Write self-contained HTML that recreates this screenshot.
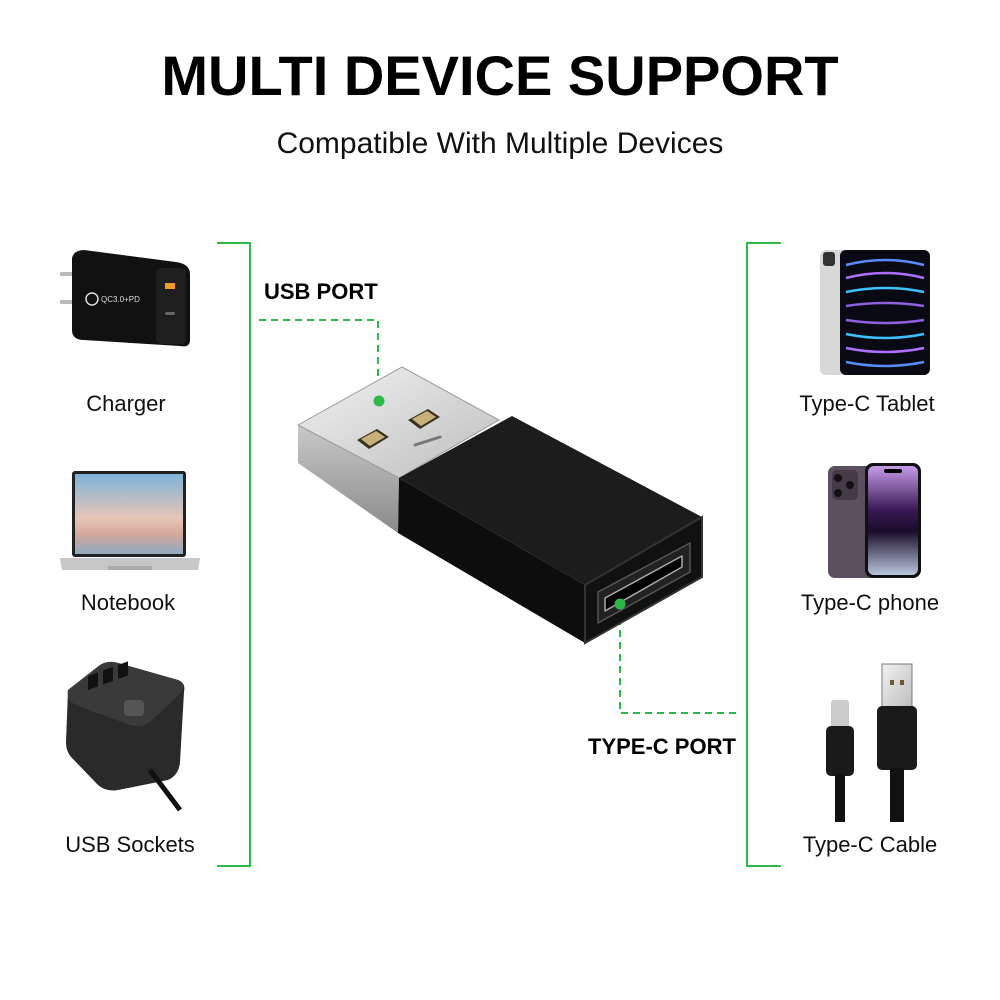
<!DOCTYPE html>
<html><head><meta charset="utf-8"><style>
html,body{margin:0;padding:0;background:#fff;}
svg{display:block;}
text{font-family:"Liberation Sans",Arial,sans-serif;}
</style></head><body>
<svg width="1000" height="1000" viewBox="0 0 1000 1000" xmlns="http://www.w3.org/2000/svg">
<defs>
<linearGradient id="silv" x1="0" y1="0" x2="1" y2="1"><stop offset="0" stop-color="#f2f2f2"/><stop offset="1" stop-color="#bdbdbd"/></linearGradient>
<linearGradient id="silv2" x1="0" y1="0" x2="0" y2="1"><stop offset="0" stop-color="#c8c8c8"/><stop offset="1" stop-color="#8a8a8a"/></linearGradient>
<linearGradient id="scr" x1="0" y1="0" x2="0" y2="1"><stop offset="0" stop-color="#7fb2d8"/><stop offset="0.55" stop-color="#e6c6b8"/><stop offset="0.75" stop-color="#d6a89a"/><stop offset="1" stop-color="#8fa9c0"/></linearGradient>
<linearGradient id="ph" x1="0" y1="0" x2="0" y2="1"><stop offset="0" stop-color="#c79be8"/><stop offset="0.4" stop-color="#3a1a55"/><stop offset="0.6" stop-color="#1a0c2a"/><stop offset="1" stop-color="#b8c6dd"/></linearGradient>
</defs>
<text x="500" y="95" text-anchor="middle" font-size="56" font-weight="bold" fill="#000">MULTI DEVICE SUPPORT</text>
<text x="500" y="153" text-anchor="middle" font-size="30" fill="#111">Compatible With Multiple Devices</text>

<g stroke="#2db84a" stroke-width="2" fill="none">
<polyline points="217,243 250,243 250,866 217,866"/>
<polyline points="781,243 747,243 747,866 781,866"/>
</g>
<g stroke="#2db84a" stroke-width="2" fill="none" stroke-dasharray="7,5">
<polyline points="259,320 378,320 378,395"/>
<polyline points="620,606 620,713 738,713"/>
</g>
<text x="264" y="299" font-size="22" font-weight="bold">USB PORT</text>
<text x="588" y="754" font-size="22" font-weight="bold">TYPE-C PORT</text>

<polygon points="298,425 298,463 398,533 399,478" fill="url(#silv2)"/>
<polygon points="298,425 402,367 499,420 399,478" fill="url(#silv)" stroke="#999" stroke-width="1"/>
<polygon points="408,420 428,409 440,417 420,429" fill="#3a3320"/>
<polygon points="412,419 427,411 436,417 421,426" fill="#c9b27a"/>
<polygon points="357,440 377,429 389,437 369,449" fill="#3a3320"/>
<polygon points="361,439 376,431 385,437 370,446" fill="#c9b27a"/>
<line x1="415" y1="445" x2="440" y2="437" stroke="#777" stroke-width="3" stroke-linecap="round"/>
<polygon points="399,478 512,416 702,517 585,585" fill="#1c1c1c"/>
<polygon points="399,478 585,585 585,643 398,533" fill="#0d0d0d"/>
<polygon points="585,585 702,517 702,577 585,643" fill="#111" stroke="#333" stroke-width="2"/>
<polygon points="598,592 690,543 690,572 598,623" fill="#222" stroke="#555" stroke-width="1.5" stroke-linejoin="round"/>
<polygon points="605,598 682,556 682,567 605,611" fill="#000" stroke="#aaa" stroke-width="1.5" stroke-linejoin="round"/>
<circle cx="379" cy="401" r="5.5" fill="#2db84a"/>
<circle cx="620" cy="604" r="5.5" fill="#2db84a"/>

<polygon points="60,272 72,272 72,276 60,276" fill="#bbb"/>
<polygon points="60,300 72,300 72,304 60,304" fill="#bbb"/>
<path d="M72,258 Q74,250 84,250 L176,262 Q190,264 190,274 L190,340 Q190,348 180,346 L84,340 Q72,340 72,330 Z" fill="#111"/>
<rect x="156" y="268" width="30" height="76" rx="5" fill="#1e1e1e"/>
<rect x="165" y="283" width="10" height="6" fill="#f39a2a"/>
<rect x="165" y="312" width="10" height="3" rx="1.5" fill="#666"/>
<circle cx="92" cy="299" r="6" fill="none" stroke="#ddd" stroke-width="1.5"/>
<text x="101" y="302" font-size="8" fill="#ddd">QC3.0+PD</text>
<text x="126" y="411" text-anchor="middle" font-size="22" fill="#111">Charger</text>

<rect x="72" y="471" width="114" height="86" rx="3" fill="#222"/>
<rect x="75" y="474" width="108" height="80" fill="url(#scr)"/>
<path d="M60,558 L200,558 L198,570 L62,570 Z" fill="#c7c7c7"/>
<rect x="108" y="566" width="44" height="4" fill="#aaa"/>
<text x="128" y="610" text-anchor="middle" font-size="22" fill="#111">Notebook</text>

<path d="M68,690 L100,665 Q108,660 118,663 L178,680 Q186,683 184,692 L180,762 Q179,775 168,780 L118,790 Q106,792 98,785 L72,758 Q66,752 66,742 Z" fill="#2a2a2a"/>
<path d="M68,690 L100,665 Q108,660 118,663 L178,680 Q186,683 182,692 L150,722 Q142,728 130,725 L76,705 Q66,700 68,690 Z" fill="#3a3a3a"/>
<g fill="#111"><rect x="88" y="676" width="10" height="14" transform="skewY(-20) translate(0,32)"/><rect x="103" y="671" width="10" height="14" transform="skewY(-20) translate(0,37)"/><rect x="118" y="666" width="10" height="14" transform="skewY(-20) translate(0,42)"/></g>
<rect x="124" y="700" width="20" height="16" rx="4" fill="#555"/>
<path d="M150,770 L180,810" stroke="#111" stroke-width="5" fill="none"/>
<text x="130" y="852" text-anchor="middle" font-size="22" fill="#111">USB Sockets</text>

<rect x="820" y="250" width="50" height="125" rx="6" fill="#d8d8d8"/>
<rect x="823" y="252" width="12" height="14" rx="3" fill="#333"/>
<rect x="840" y="250" width="90" height="125" rx="6" fill="#0a0a14"/>
<g fill="none" stroke-width="2.5">
<path d="M846,265 Q885,255 924,265" stroke="#5a8cff"/><path d="M846,278 Q885,268 924,278" stroke="#b070ff"/>
<path d="M846,292 Q885,284 924,292" stroke="#3fc0ff"/><path d="M846,306 Q885,300 924,306" stroke="#9060e0"/>
<path d="M846,320 Q885,326 924,320" stroke="#9060e0"/><path d="M846,334 Q885,342 924,334" stroke="#3fc0ff"/>
<path d="M846,348 Q885,356 924,348" stroke="#b070ff"/><path d="M846,362 Q885,370 924,362" stroke="#5a8cff"/>
</g>
<text x="867" y="411" text-anchor="middle" font-size="22" fill="#111">Type-C Tablet</text>

<rect x="828" y="466" width="58" height="112" rx="7" fill="#5b5060"/>
<rect x="832" y="470" width="26" height="30" rx="5" fill="#453b48"/>
<circle cx="838" cy="478" r="4" fill="#111"/><circle cx="850" cy="485" r="4" fill="#111"/><circle cx="838" cy="493" r="4" fill="#111"/>
<rect x="865" y="463" width="56" height="115" rx="8" fill="#111"/>
<rect x="868" y="466" width="50" height="109" rx="6" fill="url(#ph)"/>
<rect x="884" y="469" width="18" height="4" rx="2" fill="#000"/>
<text x="870" y="610" text-anchor="middle" font-size="22" fill="#111">Type-C phone</text>

<rect x="831" y="700" width="18" height="28" rx="3" fill="#ccc"/>
<rect x="826" y="726" width="28" height="50" rx="5" fill="#1a1a1a"/>
<rect x="835" y="774" width="10" height="48" fill="#111"/>
<rect x="882" y="664" width="30" height="44" fill="url(#silv)" stroke="#777"/>
<rect x="890" y="680" width="4" height="5" fill="#6b5a30"/><rect x="900" y="680" width="4" height="5" fill="#6b5a30"/>
<rect x="877" y="706" width="40" height="64" rx="5" fill="#1a1a1a"/>
<rect x="890" y="768" width="14" height="54" fill="#111"/>
<text x="870" y="852" text-anchor="middle" font-size="22" fill="#111">Type-C Cable</text>
</svg>
</body></html>
